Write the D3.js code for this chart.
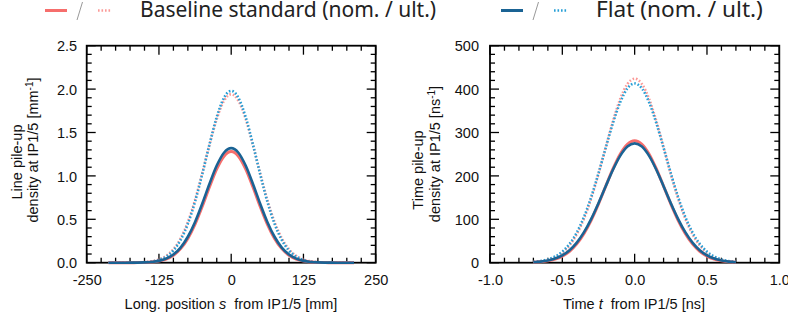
<!DOCTYPE html>
<html>
<head>
<meta charset="utf-8">
<script src="https://cdn.jsdelivr.net/npm/d3@7"></script>
<style>
  html, body { margin: 0; padding: 0; background: #fff; }
  svg { display: block; }
  text { font-family: "Liberation Sans", Arial, sans-serif; fill: #111; white-space: pre; }
  .legend text { font-family: "Noto Sans", "DejaVu Sans", sans-serif; fill: #222; }
</style>
</head>
<body>
<svg id="chart" width="788" height="320"></svg>
<script>
// ---- Longitudinal position s [mm] and line pile-up density [1/mm] ----
const posS = [-212.5, -200, -187.5, -175, -162.5, -150, -137.5, -125, -112.5, -100, -87.5, -75, -62.5, -50, -37.5, -25, -12.5,
              0, 12.5, 25, 37.5, 50, 62.5, 75, 87.5, 100, 112.5, 125, 137.5, 150, 162.5, 175, 187.5, 200, 212.5];
const lineBaseNom = [0, 0, 0.0001, 0.0003, 0.0010, 0.0029, 0.0077, 0.0187, 0.0418, 0.0857, 0.162, 0.280, 0.445, 0.651, 0.875, 1.081, 1.227,
                     1.28, 1.227, 1.081, 0.875, 0.651, 0.445, 0.280, 0.162, 0.0857, 0.0418, 0.0187, 0.0077, 0.0029, 0.0010, 0.0003, 0.0001, 0, 0];
const lineBaseUlt = [0, 0.0001, 0.0003, 0.0008, 0.0025, 0.0066, 0.0164, 0.0375, 0.0794, 0.155, 0.281, 0.469, 0.724, 1.032, 1.360, 1.657, 1.865,
                     1.94, 1.865, 1.657, 1.360, 1.032, 0.724, 0.469, 0.281, 0.155, 0.0794, 0.0375, 0.0164, 0.0066, 0.0025, 0.0008, 0.0003, 0.0001, 0];
const lineFlatNom = [0, 0, 0.0001, 0.0004, 0.0012, 0.0035, 0.0089, 0.0212, 0.0466, 0.094, 0.174, 0.299, 0.470, 0.682, 0.910, 1.119, 1.267,
                     1.32, 1.267, 1.119, 0.910, 0.682, 0.470, 0.299, 0.174, 0.094, 0.0466, 0.0212, 0.0089, 0.0035, 0.0012, 0.0004, 0.0001, 0, 0];
const lineFlatUlt = [0, 0, 0.0002, 0.0006, 0.0018, 0.0052, 0.0134, 0.0319, 0.0699, 0.141, 0.262, 0.448, 0.705, 1.023, 1.365, 1.678, 1.900,
                     1.98, 1.900, 1.678, 1.365, 1.023, 0.705, 0.448, 0.262, 0.141, 0.0699, 0.0319, 0.0134, 0.0052, 0.0018, 0.0006, 0.0002, 0, 0];

// ---- Time t [ns] and time pile-up density [1/ns] ----
const timeT = [-0.7, -0.65, -0.6, -0.55, -0.5, -0.45, -0.4, -0.35, -0.3, -0.25, -0.2, -0.15, -0.1, -0.05,
               0, 0.05, 0.1, 0.15, 0.2, 0.25, 0.3, 0.35, 0.4, 0.45, 0.5, 0.55, 0.6, 0.65, 0.7];
const timeBaseNom = [0.9, 2.0, 4.2, 8.2, 15.2, 26.4, 43.4, 67.3, 98.3, 135.5, 176.2, 216.1, 250.1, 272.9,
                     281, 272.9, 250.1, 216.1, 176.2, 135.5, 98.3, 67.3, 43.4, 26.4, 15.2, 8.2, 4.2, 2.0, 0.9];
const timeBaseUlt = [1.4, 3.1, 6.4, 12.4, 22.9, 39.9, 65.6, 101.5, 148.4, 204.5, 265.9, 326.1, 377.3, 411.8,
                     424, 411.8, 377.3, 326.1, 265.9, 204.5, 148.4, 101.5, 65.6, 39.9, 22.9, 12.4, 6.4, 3.1, 1.4];
const timeFlatNom = [1.2, 2.5, 5.0, 9.5, 17.0, 28.9, 46.4, 70.4, 101.1, 137.2, 176.2, 214.1, 246.0, 267.5,
                     275, 267.5, 246.0, 214.1, 176.2, 137.2, 101.1, 70.4, 46.4, 28.9, 17.0, 9.5, 5.0, 2.5, 1.2];
const timeFlatUlt = [1.8, 3.8, 7.5, 14.3, 25.6, 43.4, 69.7, 105.7, 151.8, 206.1, 264.7, 321.6, 369.5, 401.7,
                     413, 401.7, 369.5, 321.6, 264.7, 206.1, 151.8, 105.7, 69.7, 43.4, 25.6, 14.3, 7.5, 3.8, 1.8];

// ---- Tick values ----
const sMajor = [-250, -125, 0, 125, 250];
const lineMajor = [0, 0.5, 1.0, 1.5, 2.0, 2.5];
const tMajor = [-1.0, -0.5, 0.0, 0.5, 1.0];
const timeMajor = [0, 100, 200, 300, 400, 500];

// ---- Legend entries ----
const legendLabels = ["Baseline standard (nom. / ult.)", "Flat (nom. / ult.)"];

const RED = "#f66e6c", RED_DOT = "#fb9a98", BLUE = "#1a6394", BLUE_DOT = "#279fd6";

// plain hyphen for negative numbers
const hyphen = f => v => f(v).replace("\u2212", "-");

const svg = d3.select("#chart");
svg.append("rect").attr("width", 788).attr("height", 320).attr("fill", "#fff");

function panel(opts) {
  const g = svg.append("g");
  const x = d3.scaleLinear().domain(opts.xDomain).range([opts.left, opts.right]);
  const y = d3.scaleLinear().domain(opts.yDomain).range([opts.bottom, opts.top]);

  // frame
  g.append("rect")
    .attr("x", opts.left).attr("y", opts.top)
    .attr("width", opts.right - opts.left).attr("height", opts.bottom - opts.top)
    .attr("fill", "none").attr("stroke", "#000").attr("stroke-width", 1.8);

  // minor / major ticks on all four sides, pointing inward
  const xMinor = d3.range(opts.xDomain[0], opts.xDomain[1] + opts.xMinorStep / 2, opts.xMinorStep);
  const yMinor = d3.range(opts.yDomain[0], opts.yDomain[1] + opts.yMinorStep / 2, opts.yMinorStep);
  const isMajor = (v, majors) => majors.some(m => Math.abs(m - v) < 1e-6);
  const tickG = g.append("g").attr("stroke", "#000").attr("stroke-width", 1.3);
  xMinor.forEach(v => {
    const L = isMajor(v, opts.xTicks) ? 9 : 5;
    const px = x(v);
    tickG.append("line").attr("x1", px).attr("x2", px).attr("y1", opts.bottom).attr("y2", opts.bottom - L);
    tickG.append("line").attr("x1", px).attr("x2", px).attr("y1", opts.top).attr("y2", opts.top + L);
  });
  yMinor.forEach(v => {
    const L = isMajor(v, opts.yTicks) ? 9 : 5;
    const py = y(v);
    tickG.append("line").attr("y1", py).attr("y2", py).attr("x1", opts.left).attr("x2", opts.left + L);
    tickG.append("line").attr("y1", py).attr("y2", py).attr("x1", opts.right).attr("x2", opts.right - L);
  });

  // tick labels via d3 axes (tick marks hidden, the frame carries them)
  const xAxis = d3.axisBottom(x).tickValues(opts.xTicks).tickFormat(hyphen(opts.xFormat)).tickSize(0).tickPadding(0);
  const xa = g.append("g").attr("transform", `translate(0,${opts.bottom})`).call(xAxis);
  xa.select(".domain").remove();
  xa.selectAll("text").attr("dy", null).attr("y", 22.5)
    .style("font-family", "Liberation Sans, Arial, sans-serif").style("font-size", "14.5px").attr("fill", "#111");

  const yAxis = d3.axisLeft(y).tickValues(opts.yTicks).tickFormat(hyphen(opts.yFormat)).tickSize(0).tickPadding(0);
  const ya = g.append("g").attr("transform", `translate(${opts.left},0)`).call(yAxis);
  ya.select(".domain").remove();
  ya.selectAll("text").attr("x", -opts.yLabelGap).attr("dy", "0.36em")
    .style("font-family", "Liberation Sans, Arial, sans-serif").style("font-size", "14.5px").attr("fill", "#111");

  // curves
  const line = d3.line().x(d => x(d[0])).y(d => y(d[1])).curve(d3.curveMonotoneX);
  const series = [
    { v: opts.baseUlt, c: RED_DOT, dash: "1.6,1.9", w: 2.6 },
    { v: opts.flatUlt, c: BLUE_DOT, dash: "1.6,1.9", w: 2.6 },
    { v: opts.baseNom, c: RED, dash: null, w: 3 },
    { v: opts.flatNom, c: BLUE, dash: null, w: 2.6 }
  ];
  series.forEach(s => {
    g.append("path")
      .datum(opts.xs.map((xv, i) => [xv, s.v[i]]))
      .attr("d", line)
      .attr("fill", "none")
      .attr("stroke", s.c)
      .attr("stroke-width", s.w)
      .attr("stroke-dasharray", s.dash);
  });

  // x title
  const xt = g.append("text")
    .attr("x", opts.xTitleX).attr("y", 309)
    .attr("text-anchor", "middle")
    .style("font-size", "14.5px");
  opts.xTitle.forEach(p => {
    const ts = xt.append("tspan").text(p.t);
    if (p.i) ts.style("font-style", "italic");
  });

  // y title (two lines, rotated)
  opts.yTitle.forEach(ln => {
    const t = g.append("text")
      .attr("transform", `translate(${ln.x},${ln.y}) rotate(-90)`)
      .attr("text-anchor", "middle")
      .style("font-size", "14.5px");
    ln.parts.forEach(p => {
      const ts = t.append("tspan").text(p.t);
      if (p.sup) ts.attr("baseline-shift", "super").style("font-size", "10px");
    });
  });
}

panel({
  left: 86.7, right: 375.7, top: 45.7, bottom: 262.7,
  xDomain: [-250, 250], yDomain: [0, 2.5],
  xMinorStep: 25, yMinorStep: 0.1,
  xTicks: sMajor, yTicks: lineMajor,
  xFormat: d3.format("d"), yFormat: d3.format(".1f"),
  yLabelGap: 9.5,
  xs: posS, baseNom: lineBaseNom, baseUlt: lineBaseUlt, flatNom: lineFlatNom, flatUlt: lineFlatUlt,
  xTitleX: 231,
  xTitle: [{ t: "Long. position " }, { t: "s", i: true }, { t: "  from IP1/5 [mm]" }],
  yTitle: [
    { x: 21.5, y: 162, parts: [{ t: "Line pile-up" }] },
    { x: 37.5, y: 150, parts: [{ t: "density at IP1/5 [mm" }, { t: "-1", sup: true }, { t: "]" }] }
  ]
});

panel({
  left: 490, right: 779.3, top: 45.7, bottom: 262.7,
  xDomain: [-1, 1], yDomain: [0, 500],
  xMinorStep: 0.1, yMinorStep: 20,
  xTicks: tMajor, yTicks: timeMajor,
  xFormat: d3.format(".1f"), yFormat: d3.format("d"),
  yLabelGap: 11,
  xs: timeT, baseNom: timeBaseNom, baseUlt: timeBaseUlt, flatNom: timeFlatNom, flatUlt: timeFlatUlt,
  xTitleX: 634,
  xTitle: [{ t: "Time " }, { t: "t", i: true }, { t: "  from IP1/5 [ns]" }],
  yTitle: [
    { x: 422.5, y: 170, parts: [{ t: "Time pile-up" }] },
    { x: 439.5, y: 154, parts: [{ t: "density at IP1/5 [ns" }, { t: "-1", sup: true }, { t: "]" }] }
  ]
});

// ---- Legend ----
const leg = svg.append("g").attr("class", "legend");
const entries = [
  { x0: 45, label: legendLabels[0], textX: 140, textW: 296, solid: RED, dot: RED_DOT },
  { x0: 501, label: legendLabels[1], textX: 596, textW: 167, solid: BLUE, dot: BLUE_DOT }
];
entries.forEach(e => {
  leg.append("line").attr("x1", e.x0).attr("x2", e.x0 + 22).attr("y1", 10.5).attr("y2", 10.5)
    .attr("stroke", e.solid).attr("stroke-width", 3);
  leg.append("line").attr("x1", e.x0 + 32).attr("x2", e.x0 + 37.5).attr("y1", 20).attr("y2", 2)
    .attr("stroke", "#999").attr("stroke-width", 1);
  leg.append("line").attr("x1", e.x0 + 53).attr("x2", e.x0 + 66).attr("y1", 10.5).attr("y2", 10.5)
    .attr("stroke", e.dot).attr("stroke-width", 2.6).attr("stroke-dasharray", "1.6,1.9");
  const t = leg.append("text").attr("x", e.textX).attr("y", 17).style("font-size", "20px").text(e.label);
  const w = t.node().getComputedTextLength();
  t.style("font-size", (20 * e.textW / w).toFixed(2) + "px");
});
</script>
</body>
</html>
